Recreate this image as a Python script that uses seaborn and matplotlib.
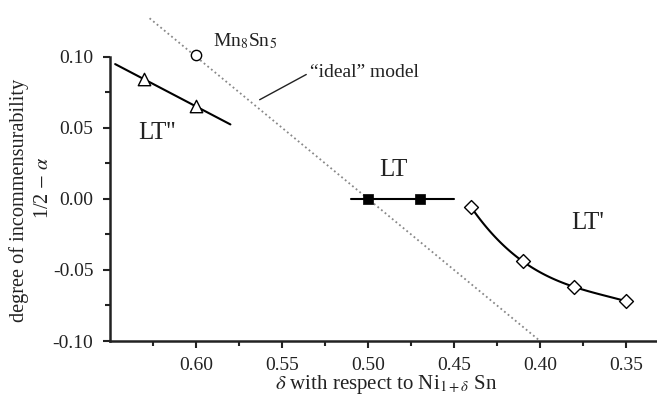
import numpy as np
import pandas as pd
import matplotlib
matplotlib.use("Agg")
import matplotlib.pyplot as plt
import seaborn as sns

# ---- data ----
lt2_delta = [0.63, 0.60]                 # LT'' (open triangles)
lt2_val = [0.084, 0.065]
lt2_fit_range = [0.647, 0.580]           # extent of the fitted line

mn_delta = [0.60]                        # Mn8Sn5 (open circle)
mn_val = [0.101]

lt_delta = [0.50, 0.47]                  # LT (filled squares)
lt_val = [0.0, 0.0]
lt_line_delta = [0.51, 0.45]
lt_line_val = [0.0, 0.0]

lt1_delta = [0.44, 0.41, 0.38, 0.35]     # LT' (open diamonds)
lt1_val = [-0.006, -0.044, -0.062, -0.072]

ideal_delta = [0.627, 0.40]              # "ideal" model (dotted)
ideal_val = [0.127, -0.10]

xticks = [0.60, 0.55, 0.50, 0.45, 0.40, 0.35]
xtick_labels = ["0.60", "0.55", "0.50", "0.45", "0.40", "0.35"]
yticks = [-0.10, -0.05, 0.00, 0.05, 0.10]
ytick_labels = ["-0.10", "-0.05", "0.00", "0.05", "0.10"]

# ---- style ----
sns.set_style("ticks")
plt.rcParams["font.family"] = ["Liberation Serif", "DejaVu Serif"]
plt.rcParams["mathtext.fontset"] = "stix"

INK = "#222222"
W, H = 657, 399
fig = plt.figure(figsize=(W / 100, H / 100), dpi=100)
ax = fig.add_axes([110 / W, 1 - 341 / H, 547 / W, 327 / H])

# ideal model
sns.lineplot(x=ideal_delta, y=ideal_val, ax=ax, color="#888888",
             linestyle=(0, (1, 1.6)), linewidth=1.3, sort=False)

# LT'' linear trend
coef = np.polyfit(lt2_delta, lt2_val, 1)
xs = np.array(lt2_fit_range)
sns.lineplot(x=xs, y=np.polyval(coef, xs), ax=ax, color="black",
             linewidth=1.5, sort=False)
sns.scatterplot(x=lt2_delta, y=lt2_val, ax=ax, marker="^", s=80,
                facecolor="white", edgecolor="black", linewidth=1.0, zorder=5)

# Mn8Sn5
sns.scatterplot(x=mn_delta, y=mn_val, ax=ax, marker="o", s=55,
                facecolor="white", edgecolor="black", linewidth=1.0, zorder=5)

# LT
sns.lineplot(x=lt_line_delta, y=lt_line_val, ax=ax, color="black",
             linewidth=1.5, sort=False)
sns.scatterplot(x=lt_delta, y=lt_val, ax=ax, marker="s", s=55,
                color="black", edgecolor="black", linewidth=0.5, zorder=5)

# LT' smooth curve
c3 = np.polyfit(lt1_delta, lt1_val, 3)
xc = np.linspace(min(lt1_delta), max(lt1_delta), 100)
sns.lineplot(x=xc, y=np.polyval(c3, xc), ax=ax, color="black",
             linewidth=1.5, sort=False)
sns.scatterplot(x=lt1_delta, y=lt1_val, ax=ax, marker="D", s=50,
                facecolor="white", edgecolor="black", linewidth=1.0, zorder=5)

# ---- axes ----
ax.set_xlim(0.65, 0.332)
ax.set_ylim(-0.10, 0.13)
ax.set_xticks(xticks)
ax.set_xticklabels(xtick_labels)
ax.set_yticks(yticks)
ax.set_yticklabels(ytick_labels)
ax.set_xticks([0.625, 0.575, 0.525, 0.475, 0.425, 0.375], minor=True)
ax.set_yticks([-0.075, -0.025, 0.025, 0.075], minor=True)
ax.tick_params(which="major", direction="out", length=5, width=1.5,
               labelsize=14, color=INK, labelcolor=INK)
ax.tick_params(which="minor", direction="out", length=3.6, width=1.5,
               color=INK)
ax.tick_params(axis="x", which="major", pad=6.5)
ax.tick_params(axis="y", which="major", pad=7)
for s in ["top", "right"]:
    ax.spines[s].set_visible(False)
for s in ["left", "bottom"]:
    ax.spines[s].set_linewidth(1.8)
    ax.spines[s].set_color(INK)
ax.spines["left"].set_bounds(-0.10, 0.10)

# labels
fig.text(19 / W, 1 - 200 / H, "degree of incommensurability", rotation=90,
         ha="center", va="center", fontsize=14.6, color=INK)
fig.text(44 / W, 1 - 188 / H, r"1/2 $-$ $\alpha$", rotation=90,
         ha="center", va="center", fontsize=14.6, color=INK)
fig.text(386 / W, 1 - 385 / H, r"$\delta$ with respect to Ni$_{1+\delta}$ Sn",
         ha="center", va="center", fontsize=15, color=INK)

ax.text(0.6337, 0.0465, "LT''", fontsize=18, ha="left", va="center", color=INK)
ax.text(0.4936, 0.0204, "LT", fontsize=18, ha="left", va="center", color=INK)
ax.text(0.382, -0.0169, "LT'", fontsize=18, ha="left", va="center", color=INK)
ax.text(0.590, 0.1106, r"Mn$_8$Sn$_5$", fontsize=14, ha="left", va="center", color=INK)
ax.annotate("\u201cideal\u201d model", xy=(0.563, 0.0697), xytext=(0.534, 0.0887),
            fontsize=14, ha="left", va="center", color=INK,
            arrowprops=dict(arrowstyle="-", color=INK, lw=1.0,
                            shrinkA=0, shrinkB=0, relpos=(0, 0.5)))

fig.savefig("out.png", dpi=100)
